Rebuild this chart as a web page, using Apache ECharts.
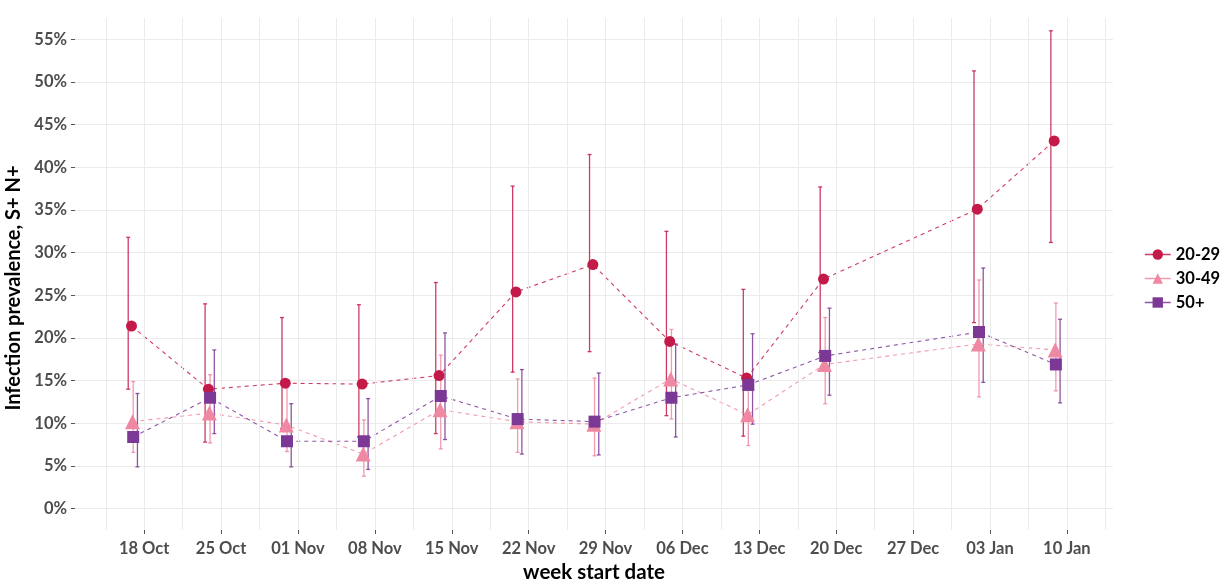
<!DOCTYPE html>
<html>
<head>
<meta charset="utf-8">
<title>Infection prevalence by age group</title>
<script src="https://cdn.jsdelivr.net/npm/echarts@6/dist/echarts.min.js"></script>
<style>
  html, body { margin: 0; padding: 0; background: #fff; }
  #chart { width: 1232px; height: 581px; }
</style>
</head>
<body>
<div id="chart"></div>
<script>
// week start dates (categories)
var weeks = ['18 Oct', '25 Oct', '01 Nov', '08 Nov', '15 Nov', '22 Nov', '29 Nov',
             '06 Dec', '13 Dec', '20 Dec', '27 Dec', '03 Jan', '10 Jan'];

// 20-29
var est2029 = [21.4, 14.0, 14.7, 14.6, 15.6, 25.4, 28.6, 19.6, 15.3, 26.9, null, 35.1, 43.1];
var low2029 = [14.0, 7.8, 9.4, 8.4, 8.8, 16.0, 18.4, 10.9, 8.5, 18.3, null, 21.8, 31.2];
var up2029  = [31.8, 24.0, 22.4, 23.9, 26.5, 37.8, 41.5, 32.5, 25.7, 37.7, null, 51.3, 56.0];

// 30-49
var est3049 = [10.2, 11.2, 9.8, 6.4, 11.6, 10.2, 9.9, 15.2, 11.0, 16.9, null, 19.3, 18.6];
var low3049 = [6.6, 7.7, 6.7, 3.8, 7.0, 6.6, 6.2, 10.5, 7.4, 12.3, null, 13.1, 13.8];
var up3049  = [14.9, 15.7, 14.2, 10.4, 18.0, 15.2, 15.3, 21.0, 15.2, 22.4, null, 26.8, 24.1];

// 50+
var est50 = [8.4, 13.0, 7.9, 7.9, 13.2, 10.5, 10.2, 13.0, 14.5, 17.9, null, 20.7, 16.9];
var low50 = [4.9, 8.8, 4.9, 4.6, 8.1, 6.4, 6.3, 8.4, 9.9, 13.3, null, 14.8, 12.4];
var up50  = [13.5, 18.6, 12.3, 12.9, 20.6, 16.3, 15.9, 19.3, 20.5, 23.5, null, 28.2, 22.2];

var yTicks = [0, 5, 10, 15, 20, 25, 30, 35, 40, 45, 50, 55];

var groups = [
    {name: '20-29', est: est2029, low: low2029, up: up2029, color: '#c41a4a', symbol: 'circle', size: 11, dx: -0.165, bx: -0.208},
    {name: '30-49', est: est3049, low: low3049, up: up3049, color: '#ef88a2', symbol: 'triangle', size: 15, dx: -0.152, bx: -0.143},
    {name: '50+',   est: est50,   low: low50,   up: up50,   color: '#7b3894', symbol: 'rect', size: 12, dx: -0.143, bx: -0.088}
];

var FONT = 'Lato';
var tickIdx = weeks.map(function (w, i) { return i; });

// vertical grid lines at every half week
var vGrid = [];
for (var g = -0.5; g <= weeks.length - 0.5; g += 0.5) {
    vGrid.push({xAxis: g});
}

var series = [{
    name: 'grid',
    type: 'line',
    data: [],
    silent: true,
    z: 0,
    markLine: {
        silent: true,
        animation: false,
        symbol: ['none', 'none'],
        label: {show: false},
        lineStyle: {color: '#ebebeb', type: 'solid', width: 1},
        data: vGrid
    }
}];

groups.forEach(function (grp) {
    var pts = [], bars = [];
    grp.est.forEach(function (v, i) {
        if (v == null) return;
        pts.push([i + grp.dx, v]);
        bars.push([i + grp.bx, grp.low[i], grp.up[i]]);
    });
    // error bars
    series.push({
        name: grp.name + ' ci',
        type: 'custom',
        silent: true,
        z: 2,
        data: bars,
        renderItem: function (params, api) {
            var top = api.coord([api.value(0), api.value(2)]);
            var bot = api.coord([api.value(0), api.value(1)]);
            var st = {stroke: grp.color, lineWidth: 1.3, opacity: 0.85};
            return {
                type: 'group',
                children: [
                    {type: 'line', shape: {x1: top[0], y1: top[1], x2: bot[0], y2: bot[1]}, style: st},
                    {type: 'line', shape: {x1: top[0] - 2, y1: top[1], x2: top[0] + 2, y2: top[1]}, style: st},
                    {type: 'line', shape: {x1: bot[0] - 2, y1: bot[1], x2: bot[0] + 2, y2: bot[1]}, style: st}
                ]
            };
        }
    });
    // estimates + dashed line
    series.push({
        name: grp.name,
        type: 'line',
        z: 3,
        data: pts,
        symbol: grp.symbol,
        symbolSize: grp.size,
        showAllSymbol: true,
        itemStyle: {color: grp.color},
        lineStyle: {color: grp.color, width: 1.1, type: [4, 4], opacity: 0.85}
    });
});

var chart = echarts.init(document.getElementById('chart'));
chart.setOption({
    animation: false,
    grid: {left: 75, right: 119, top: 18, bottom: 51, containLabel: false, outerBoundsMode: 'none'},
    legend: {
        data: groups.map(function (g) { return g.name; }),
        orient: 'vertical',
        left: 1139,
        top: 241,
        itemWidth: 26,
        itemHeight: 13,
        itemGap: 7,
        lineStyle: {type: 'solid', width: 1.5},
        textStyle: {fontFamily: FONT, fontWeight: 'bold', fontSize: 16.5, color: '#000'}
    },
    xAxis: {
        type: 'value',
        min: -0.9,
        max: 12.6,
        name: 'week start date',
        nameLocation: 'middle',
        nameGap: 29,
        nameTextStyle: {fontFamily: FONT, fontWeight: 'bold', fontSize: 20.5, color: '#000'},
        axisLine: {show: false, onZero: false},
        splitLine: {show: false},
        axisTick: {show: true, customValues: tickIdx, length: 4, lineStyle: {color: '#555'}},
        axisLabel: {
            customValues: tickIdx,
            margin: 10,
            fontFamily: FONT, fontWeight: 'bold', fontSize: 16.5, color: '#4d4d4d',
            formatter: function (v) { return weeks[Math.round(v)]; }
        }
    },
    yAxis: {
        type: 'value',
        min: -2.5,
        max: 57.5,
        interval: 2.5,
        name: 'Infection prevalence, S+ N+',
        nameLocation: 'middle',
        nameGap: 46,
        nameRotate: 90,
        nameTextStyle: {fontFamily: FONT, fontWeight: 'bold', fontSize: 20, color: '#000', padding: [0, 28, 0, 0]},
        axisLine: {show: false, onZero: false},
        splitLine: {show: true, lineStyle: {color: '#ebebeb', width: 1}},
        axisTick: {show: true, customValues: yTicks, length: 4, lineStyle: {color: '#555'}},
        axisLabel: {
            customValues: yTicks,
            margin: 8,
            fontFamily: FONT, fontWeight: 'bold', fontSize: 16.5, color: '#4d4d4d',
            formatter: function (v) { return v + '%'; }
        }
    },
    series: series
});
</script>
</body>
</html>
